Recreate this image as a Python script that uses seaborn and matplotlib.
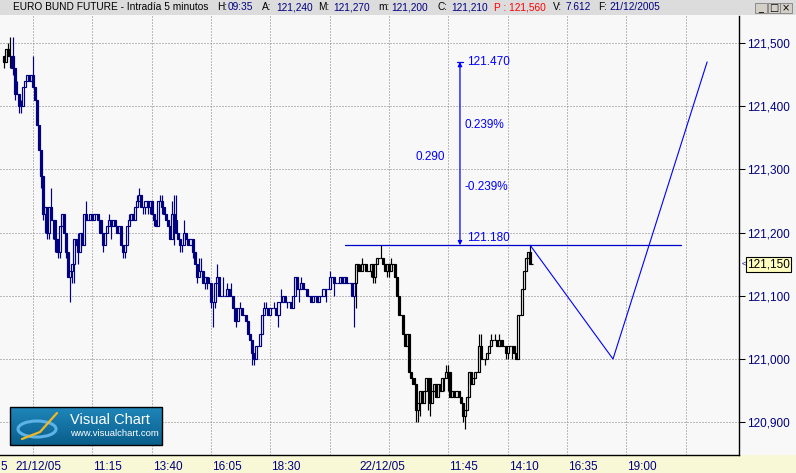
import numpy as np
import pandas as pd
import matplotlib
matplotlib.use('Agg')
import matplotlib.pyplot as plt
import matplotlib.patches as mpatches
import seaborn as sns

sns.set_style('white')
plt.rcParams['font.family'] = ['Liberation Sans', 'DejaVu Sans']

# ---------------- data (prices in hundredths above 121.00) ----------------
BASE = 121.00
prev_open = 48
prev_close = [47, 49, 48, 48]                       # last bars of 20/12 (idx -4..-1)
d21_close = [46, 42, 42, 40, 40, 43, 44, 45, 44, 45,
             43, 41, 37, 33, 29, 23, 24, 20, 24, 22,
             22, 19, 17, 21, 23, 20, 17, 13, 14, 15,
             19, 18, 17, 20, 18, 23, 22, 22, 23, 22,
             23, 23, 22, 20, 18, 20, 21, 22, 21, 22,
             21, 20, 21, 18, 17, 18, 21, 22, 23, 22,
             24, 25, 26, 24, 24, 25, 24, 25, 23, 22,
             21, 25, 25, 24, 23, 22, 21, 19, 23, 22,
             20, 19, 18, 18, 20, 19, 18, 19, 17, 15,
             13, 14, 14, 12, 13, 12, 12, 9, 9, 12,
             13, 10, 10, 10, 10, 11, 10, 10, 8, 6,
             8, 8, 7, 7, 6, 4, 3, 1, 0, 2,
             2, 4, 7, 8, 8, 7, 8, 8, 8, 7,
             9, 9, 10, 9, 9, 9, 8, 10, 13, 11,
             11, 12, 11, 11, 10, 10, 9, 10, 10, 9,
             10, 10, 11, 11, 11, 13, 13, 12, 12, 12,
             13, 12, 13, 12, 12, 12, 10, 12]
d22_close = [15, 14, 14, 15, 15, 14, 14, 15, 13, 15,
             16, 16, 16, 15, 14, 15, 14, 15, 15, 13,
             10, 7, 7, 4, 2, 4, -2, -3, -4, -8,
             -7, -5, -7, -5, -3, -3, -7, -5, -4, -6,
             -4, -5, -3, -3, -2, -2, -6, -5, -6, -5,
             -6, -7, -9, -8, -6, -2, -4, -3, -2, -2,
             2, 0, 0, 0, 1, 2, 3, 3, 3, 2,
             3, 2, 2, 1, 2, 2, 2, 1, 0, 7,
             7, 11, 14, 16, 17, 15, 15]
wick_high = {-2: 50, -1: 51, 0: 51, 2: 44, 4: 41, 10: 48, 19: 27, 32: 20, 36: 25,
             47: 23, 57: 23, 61: 26, 62: 27, 72: 26, 73: 26, 78: 25, 79: 26, 80: 26,
             84: 22, 91: 16, 92: 16, 96: 13, 100: 15, 103: 13, 105: 12, 107: 12,
             111: 9, 123: 9, 124: 9, 128: 9, 131: 11, 141: 13, 155: 14,
             170: 15, 171: 16, 180: 18, 185: 16, 212: -1, 213: -1, 228: 4, 229: 4,
             234: 4, 236: 4, 238: 4, 253: 18}
wick_low = {-4: 46, -1: 46, 0: 45, 1: 41, 3: 39, 4: 39, 14: 27, 15: 22, 16: 20,
            17: 19, 18: 19, 20: 19, 21: 17, 22: 16, 23: 16, 26: 16, 28: 9, 29: 12,
            30: 12, 32: 15, 44: 17, 48: 19, 54: 16, 55: 16, 64: 23, 65: 23, 66: 23,
            67: 23, 69: 21, 73: 23, 79: 18, 82: 17, 83: 17, 87: 18, 88: 16, 90: 12,
            94: 11, 95: 11, 97: 8, 98: 5, 99: 8, 109: 5, 117: -1, 118: -1, 130: 5,
            134: 8, 140: 9, 153: 9, 157: 10, 167: 5,
            168: 8, 175: 13, 176: 12, 177: 12, 183: 13, 184: 13, 197: -10, 198: -10,
            199: -9, 203: -8, 204: -9, 207: -6, 211: -5, 213: -5, 220: -10, 221: -11,
            231: -1, 241: 0, 242: 0, 244: 0}

price_ticks = [120.9, 121.0, 121.1, 121.2, 121.3, 121.4, 121.5]
grid_idx = [10, 39, 68, 97, 126, 155, 184, 213, 242, 271, 300, 329]
grid_lbl = ['', '11:15', '13:40', '16:05', '18:30', '', '', '11:45', '14:10', '16:35', '19:00', '']
date_idx = [0.7, 168.8]
date_lbl = ['21/12/05', '22/12/05']

level_price = 121.18
target_price = 121.47
last_price = 121.15
measure_idx = 218.7
level_span = [162.5, 326.7]
proj_idx = [253, 293.5, 339.5]
proj_price = [121.18, 121.00, 121.47]

# ---------------- build frame ----------------
closes = prev_close + d21_close + d22_close
idx = list(range(-4, -4 + len(closes)))
opens = [prev_open] + closes[:-1]
df = pd.DataFrame({'idx': idx, 'o': opens, 'c': closes})
df['h'] = [max(o, c, wick_high.get(i, -99)) for i, o, c in zip(df.idx, df.o, df.c)]
df['l'] = [min(o, c, wick_low.get(i, 99)) for i, o, c in zip(df.idx, df.o, df.c)]
for col in ['o', 'c', 'h', 'l']:
    df[col] = BASE + df[col] / 100.0
df['color'] = np.where((df.idx >= 0) & (df.idx < 168), '#000080', '#000000')

# ---------------- figure ----------------
W, H = 796, 473
BG = '#F8F8F8'
fig = plt.figure(figsize=(W / 100, H / 100), dpi=100, facecolor=BG)

back = fig.add_axes([0, 0, 1, 1], zorder=-1)
back.set_xlim(0, W); back.set_ylim(H, 0); back.axis('off')
back.add_patch(mpatches.Rectangle((0, 455), W, 18, fc='#F8F8D6', ec='none'))

ax = fig.add_axes([0, 18 / H, 739 / W, 439 / H])
ax.set_facecolor(BG)
X0, DX = 12.5, 2.046
ax.set_xlim(-X0 / DX, (739 - X0) / DX)
ax.set_ylim(120.8481, 121.5427)

dots = (0, (1, 2))
for v in price_ticks:
    ax.axhline(v, color='#808080', lw=0.72, ls=dots, zorder=0)
for g in grid_idx:
    ax.axvline(g, color='#808080', lw=0.72, ls=dots, zorder=0)

# candles
up = df.c >= df.o
ax.vlines(df.idx, df.l, df.h, colors=df.color, lw=0.85, zorder=2)
body_h = (df.c - df.o).abs()
ax.bar(df.idx, body_h, bottom=np.minimum(df.o, df.c), width=1.0,
       color=np.where(up, BG, df.color), edgecolor=df.color, linewidth=0.85, zorder=3)

# annotations
blue = '#0000FF'
ax.plot(level_span, [level_price, level_price], color='#0000CC', lw=0.9, zorder=4)
sns.lineplot(x=proj_idx, y=proj_price, ax=ax, color=blue, lw=0.8, sort=False,
             estimator=None, zorder=4)
ax.annotate('', xy=(measure_idx, target_price), xytext=(measure_idx, level_price),
            arrowprops=dict(arrowstyle='<|-|>', color=blue, lw=0.9,
                            mutation_scale=6, shrinkA=0, shrinkB=0), zorder=5)
ax.plot([measure_idx - 1.5, measure_idx + 1.5], [target_price, target_price],
        color=blue, lw=0.9, zorder=5)
rng = target_price - level_price
ax.text(measure_idx + 3.5, target_price, f'{target_price:.3f}', color=blue,
        fontsize=8.5, va='center', ha='left')
ax.text(measure_idx + 3.5, level_price + 0.002, f'{level_price:.3f}', color=blue,
        fontsize=8.5, va='bottom', ha='left')
ax.text(measure_idx + 2.2, level_price + rng * 0.655, '0.239%', color=blue,
        fontsize=8.5, va='center', ha='left')
ax.text(measure_idx + 2.2, level_price + rng * 0.32, '-0.239%', color=blue,
        fontsize=8.5, va='center', ha='left')
ax.text(measure_idx - 21.5, level_price + rng * 0.48, f'{rng:.3f}', color=blue,
        fontsize=8.5, va='center', ha='left')

# axes styling
for s in ['top', 'left']:
    ax.spines[s].set_visible(False)
for s in ['right', 'bottom']:
    ax.spines[s].set_color('black'); ax.spines[s].set_linewidth(1.0)
ax.yaxis.tick_right()
ax.set_yticks(price_ticks)
ax.set_yticklabels([f'{v:,.3f}'.replace('.', ',') for v in price_ticks])
ax.tick_params(axis='y', direction='out', length=4, width=0.75, color='black',
               labelcolor='#000080', labelsize=8.5, pad=1.5)
ax.set_xticks([g for g in grid_idx if g != grid_idx[0]])
ax.set_xticks(date_idx, minor=True)
ax.tick_params(axis='x', which='major', direction='out', length=3, width=0.75,
               color='black', labelbottom=False)
ax.tick_params(axis='x', which='minor', direction='out', length=5.5, width=0.75,
               color='black', labelbottom=False)
ax.grid(False)
xt = ax.get_xaxis_transform()
for g, l in zip(grid_idx, grid_lbl):
    if l:
        ax.text(g + 0.6, -0.027, l, transform=xt, fontsize=8.5, va='center', ha='left',
                color='#000080', clip_on=False)
for g, l in zip(date_idx, date_lbl):
    ax.text(g + 0.9, -0.027, l, transform=xt, fontsize=8.5, va='center', ha='left',
            color='#000080', clip_on=False)

# last price box on right axis
ytr = ax.get_yaxis_transform()
ax.text(1.0108, last_price, f'{last_price:,.3f}'.replace('.', ','), transform=ytr,
        fontsize=8.5, va='center', ha='left', color='black', clip_on=False,
        bbox=dict(boxstyle='square,pad=0.12', fc='#FFFFC0', ec='black', lw=0.8))
ax.text(1.0035, last_price, '<', transform=ytr, fontsize=5.5, va='center', ha='left',
        color='#000080', clip_on=False)

# ---------------- overlay: title bar, logo ----------------
ov = fig.add_axes([0, 0, 1, 1], zorder=5)
ov.set_xlim(0, W); ov.set_ylim(H, 0); ov.axis('off'); ov.patch.set_alpha(0)
ov.add_patch(mpatches.Rectangle((0, 0), W, 15.5, fc='#DCDCDC', ec='none'))
navy = '#000080'
pieces = [(13, 'EURO BUND FUTURE - Intradía 5 minutos', 'black'),
          (217, 'H:', 'black'), (228, '09:35', navy),
          (262, 'A:', 'black'), (276, '121,240', navy),
          (318, 'M:', 'black'), (333, '121,270', navy),
          (378, 'm:', 'black'), (391, '121,200', navy),
          (437, 'C:', 'black'), (451, '121,210', navy),
          (494, 'P : 121,560', '#FF0000'),
          (553, 'V:', 'black'), (566, '7.612', navy),
          (598, 'F:', 'black'), (609, '21/12/2005', navy)]
for x, t, c in pieces:
    ov.text(x, 7.5, t, color=c, fontsize=7.3, va='center', ha='left')
for bx, glyph in [(755, '_'), (767.5, '□'), (780, '×')]:
    ov.add_patch(mpatches.Rectangle((bx, 3), 12, 10, fc='#D4D0C8', ec='#808080', lw=0.6))
    ov.text(bx + 6, 8, glyph, fontsize=7, ha='center', va='center', color='black',
            family=['DejaVu Sans'])
ov.text(0.5, 467, '5', fontsize=8.5, va='center', ha='left', color=navy)

# logo
grad = np.linspace(0, 1, 40).reshape(-1, 1)
ov.imshow(grad, extent=(10, 162, 445, 407), cmap=matplotlib.colors.LinearSegmentedColormap.from_list(
    'lg', ['#1F86BA', '#0A5E8C']), aspect='auto', zorder=6)
ov.add_patch(mpatches.Rectangle((10, 407), 152, 38, fc='none', ec='black', lw=1, zorder=7))
ov.add_patch(mpatches.Ellipse((37, 429), 38, 16, fc='none', ec='#5DB3E8', lw=2.2, zorder=7))
ov.plot([22, 40, 57], [439, 432, 413], color='#F2B824', lw=1.6, zorder=8)
ov.text(70, 419.5, 'Visual Chart', color='white', fontsize=10.5, va='center', ha='left', zorder=8)
ov.text(70, 433, 'www.visualchart.com', color='white', fontsize=6.8, va='center', ha='left', zorder=8)
ov.set_xlim(0, W); ov.set_ylim(H, 0)

fig.savefig('out.png', dpi=100, facecolor=BG)
